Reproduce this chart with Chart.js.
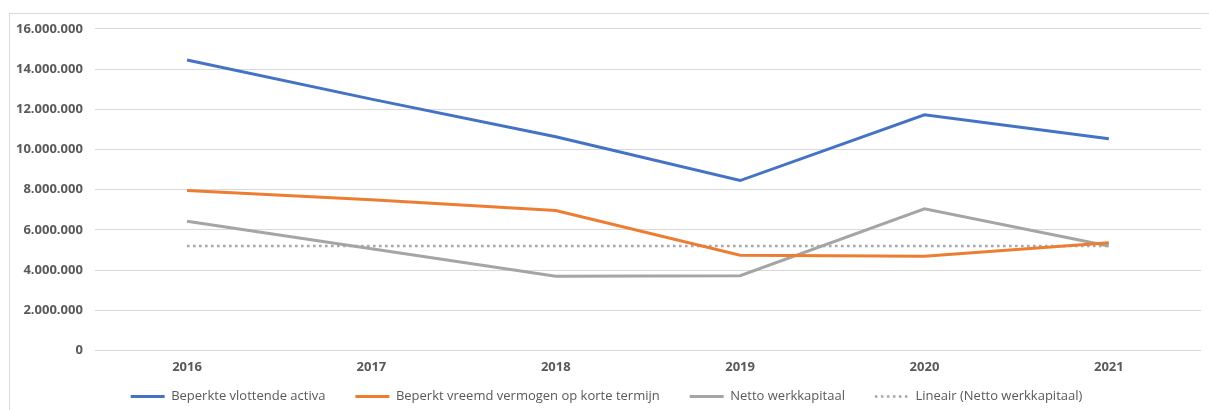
<!DOCTYPE html>
<html>
<head>
<meta charset="utf-8">
<script src="https://cdn.jsdelivr.net/npm/chart.js@4/dist/chart.umd.min.js"></script>
<style>
  body { margin: 0; background: #fff; }
  #wrap {
    position: absolute; left: 9px; top: 13px;
    width: 1199px; height: 396px;
    border: 1px solid #d9d9d9; border-bottom: none;
  }
  #grafiek { position: absolute; left: 0; top: -5px; }
</style>
</head>
<body>
<div id="wrap"><canvas id="grafiek"></canvas></div>
<script>
const jaren = ["2016", "2017", "2018", "2019", "2020", "2021"];

const vlottendeActiva = [14450000, 12500000, 10630000, 8450000, 11720000, 10530000];
const vreemdVermogen = [7950000, 7490000, 6960000, 4730000, 4680000, 5360000];
const werkkapitaal = [6430000, 5060000, 3690000, 3720000, 7040000, 5190000];
const lineair = [5190000, 5190000, 5190000, 5190000, 5190000, 5190000];

const legendaPadding = 30;

function formatNL(v) {
  return String(v).replace(/\B(?=(\d{3})+(?!\d))/g, ".");
}

function lijn(label, data, kleur, extra) {
  return {
    label,
    data,
    borderColor: kleur,
    backgroundColor: kleur,
    borderWidth: 3,
    pointRadius: 0,
    tension: 0,
    ...extra
  };
}

// legenda: brede tussenruimte maar weinig hoogte
const legendaHoogte = {
  id: "legendaHoogte",
  beforeLayout(chart) {
    const legend = chart.legend;
    if (!legend || legend._aangepast) return;
    const fit = legend.fit.bind(legend);
    legend.fit = function () {
      fit();
      this.height = 26;
    };
    legend._aangepast = true;
  },
  afterLayout(chart) {
    const legend = chart.legend;
    if (!legend) return;
    legend.top = legend.top - legendaPadding + 6;
    legend.left += 8;
  }
};

const canvas = document.getElementById("grafiek");
canvas.width = 1199;
canvas.height = 401;

new Chart(canvas.getContext("2d"), {
  type: "line",
  data: {
    labels: jaren,
    datasets: [
      lijn("Beperkte vlottende activa", vlottendeActiva, "#4472C4"),
      lijn("Beperkt vreemd vermogen op korte termijn", vreemdVermogen, "#ED7D31"),
      lijn("Netto werkkapitaal", werkkapitaal, "#A5A5A5"),
      lijn("Lineair (Netto werkkapitaal)", lineair, "#A5A5A5", { borderWidth: 2.5, borderDash: [2.5, 3.5] })
    ]
  },
  options: {
    responsive: false,
    animation: false,
    layout: { padding: { top: 0, right: 8, left: -6, bottom: 0 } },
    plugins: {
      tooltip: { enabled: false },
      legend: {
        position: "bottom",
        labels: {
          usePointStyle: true,
          pointStyle: "line",
          pointStyleWidth: 34,
          boxHeight: 6,
          padding: legendaPadding,
          color: "#595959",
          font: { family: "Open Sans", size: 13 },
          generateLabels(chart) {
            const items = Chart.defaults.plugins.legend.labels.generateLabels(chart);
            items.forEach((item) => {
              const ds = chart.data.datasets[item.datasetIndex];
              item.lineWidth = ds.borderWidth;
              item.lineDash = ds.borderDash || [];
              item.strokeStyle = ds.borderColor;
            });
            return items;
          }
        }
      }
    },
    scales: {
      x: {
        offset: true,
        grid: { display: false, drawTicks: false },
        border: { display: false },
        ticks: {
          padding: 9,
          color: "#595959",
          font: { family: "Open Sans", size: 13, weight: "bold" }
        }
      },
      y: {
        min: 0,
        max: 16000000,
        grid: { color: "#d9d9d9", lineWidth: 1, drawTicks: false },
        border: { display: false },
        ticks: {
          stepSize: 2000000,
          padding: 12,
          color: "#595959",
          font: { family: "Open Sans", size: 13, weight: "bold" },
          callback: (v) => formatNL(v)
        }
      }
    }
  },
  plugins: [legendaHoogte]
});
</script>
</body>
</html>
